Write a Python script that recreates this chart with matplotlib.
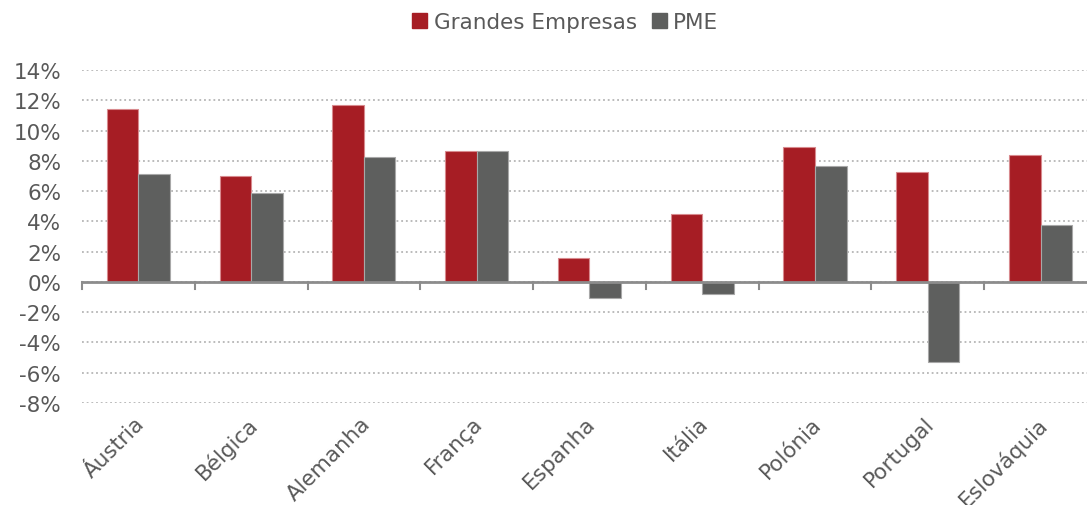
import numpy as np
import matplotlib.pyplot as plt
from matplotlib.patches import Patch
from matplotlib.ticker import FuncFormatter, MultipleLocator

# dados
paises = ['Áustria', 'Bélgica', 'Alemanha', 'França', 'Espanha',
          'Itália', 'Polónia', 'Portugal', 'Eslováquia']
grandes = [11.43, 7.01, 11.70, 8.66, 1.60, 4.50, 8.92, 7.27, 8.40]
pme = [7.14, 5.89, 8.28, 8.66, -1.04, -0.78, 7.67, -5.29, 3.75]

vermelho = '#A61D24'
cinza = '#5E5F5E'
texto = '#595959'

plt.rcParams['font.family'] = ['DejaVu Sans']

fig = plt.figure(figsize=(10.87, 5.06), dpi=100)
ax = fig.add_axes([0.0754, 0.2016, 0.9338, 0.6581])

x = np.arange(len(paises))
w = 0.28
ax.bar(x - w / 2, grandes, w, color=vermelho, edgecolor='#d88a8e', linewidth=0.8, zorder=3)
ax.bar(x + w / 2, pme, w, color=cinza, edgecolor='#a8a8a8', linewidth=0.8, zorder=3)

ax.set_xlim(-0.5, len(paises) - 0.5)
ax.set_ylim(-8, 14)
ax.yaxis.set_major_locator(MultipleLocator(2))
ax.yaxis.set_major_formatter(FuncFormatter(lambda v, p: '%d%%' % round(v)))

# grelha pontilhada
ax.grid(axis='y', color='#b5b5b5', linestyle=(0, (1, 1.6)), linewidth=1.3, zorder=0)
ax.set_axisbelow(True)
for s in ax.spines.values():
    s.set_visible(False)
ax.axhline(0, color='#8c8c8c', linewidth=2, zorder=4)

# marcas entre categorias, no eixo do zero
for b in np.arange(-0.5, len(paises), 1.0):
    ax.plot([b, b], [0, -0.45], color='#8c8c8c', linewidth=1.5, zorder=4, clip_on=False)

ax.tick_params(axis='y', length=0, labelsize=15.5, labelcolor=texto, pad=15)
ax.tick_params(axis='x', length=0, labelsize=15.5, labelcolor=texto, pad=7)
ax.set_xticks(x - 0.035)
ax.set_xticklabels(paises, rotation=45, ha='right', va='top', rotation_mode='anchor')

handles = [Patch(color=vermelho, label='Grandes Empresas'), Patch(color=cinza, label='PME')]
leg = fig.legend(handles=handles, loc='center', bbox_to_anchor=(0.52, 0.955), ncol=2,
                 frameon=False, fontsize=15.5, handlelength=0.7, handleheight=0.7,
                 handletextpad=0.3, columnspacing=0.7)
for t in leg.get_texts():
    t.set_color(texto)

fig.savefig('out.png', dpi=100)
